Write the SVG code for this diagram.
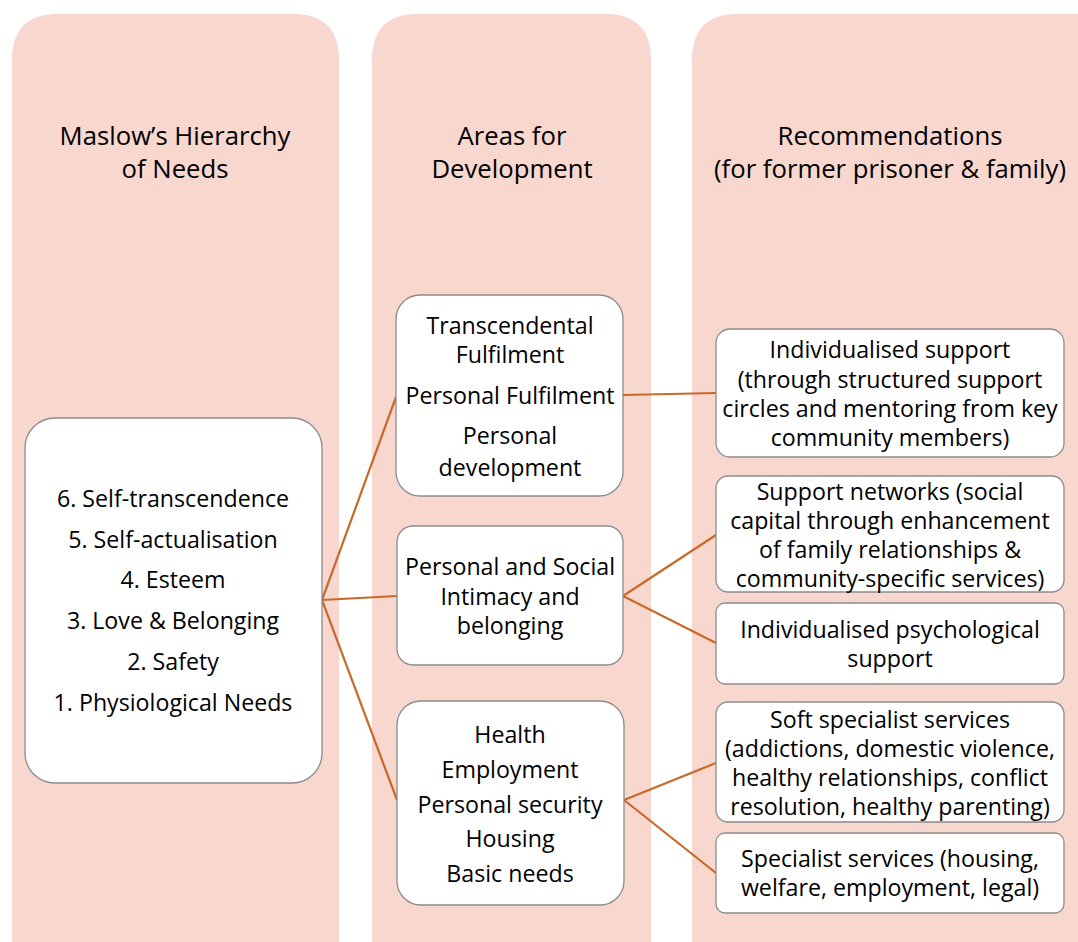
<svg xmlns="http://www.w3.org/2000/svg" width="1078" height="942" viewBox="0 0 1078 942">
<style>
.col{fill:#F8D7CE;}
.box{fill:#FFFFFF;stroke:#8C8C8C;stroke-width:1.3;}
.t{font-family:"Open Sans","Noto Sans","Liberation Sans",sans-serif;fill:#000;text-anchor:middle;}
.h{font-size:25.7px;}
.n{font-size:23.2px;}
.c{fill:none;stroke:#C8692A;stroke-width:2.2;}
</style>
<rect width="1078" height="942" fill="#FFFFFF"/>
<g id="columns">
<path class="col" d="M12 60 Q12 14 58 14 L293 14 Q339 14 339 60 L339 942 L12 942 Z"/>
<path class="col" d="M372 60 Q372 14 418 14 L605 14 Q651 14 651 60 L651 942 L372 942 Z"/>
<path class="col" d="M692 60 Q692 14 738 14 L1078 14 L1078 942 L692 942 Z"/>
</g>
<g id="headers">
<text class="t h" x="175" y="145">Maslow’s Hierarchy</text>
<text class="t h" x="175" y="178">of Needs</text>
<text class="t h" x="512" y="145">Areas for</text>
<text class="t h" x="512" y="178">Development</text>
<text class="t h" x="890" y="145">Recommendations</text>
<text class="t h" x="890" y="178">(for former prisoner &amp; family)</text>
</g>
<g id="connectors">
<line class="c" x1="322" y1="600" x2="396" y2="397"/>
<line class="c" x1="322" y1="600" x2="397" y2="596"/>
<line class="c" x1="322" y1="600" x2="397" y2="800"/>
<line class="c" x1="623" y1="395" x2="716" y2="393"/>
<line class="c" x1="623" y1="596" x2="716" y2="535"/>
<line class="c" x1="623" y1="596" x2="716" y2="643"/>
<line class="c" x1="624" y1="800" x2="716" y2="763"/>
<line class="c" x1="624" y1="800" x2="716" y2="873"/>
</g>
<g id="maslow">
<rect class="box" x="25" y="418" width="297" height="365" rx="30"/>
<text class="t n" x="173" y="507">6. Self-transcendence</text>
<text class="t n" x="173" y="548">5. Self-actualisation</text>
<text class="t n" x="173" y="588">4. Esteem</text>
<text class="t n" x="173" y="629">3. Love &amp; Belonging</text>
<text class="t n" x="173" y="670">2. Safety</text>
<text class="t n" x="173" y="711">1. Physiological Needs</text>
</g>
<g id="area1">
<rect class="box" x="396" y="295" width="227" height="201" rx="24"/>
<text class="t n" x="510" y="334">Transcendental</text>
<text class="t n" x="510" y="363">Fulfilment</text>
<text class="t n" x="510" y="404">Personal Fulfilment</text>
<text class="t n" x="510" y="444">Personal</text>
<text class="t n" x="510" y="476">development</text>
</g>
<g id="area2">
<rect class="box" x="397" y="526" width="226" height="139" rx="16"/>
<text class="t n" x="510" y="575">Personal and Social</text>
<text class="t n" x="510" y="605">Intimacy and</text>
<text class="t n" x="510" y="634">belonging</text>
</g>
<g id="area3">
<rect class="box" x="397" y="701" width="227" height="204" rx="24"/>
<text class="t n" x="510" y="743">Health</text>
<text class="t n" x="510" y="778">Employment</text>
<text class="t n" x="510" y="813">Personal security</text>
<text class="t n" x="510" y="847">Housing</text>
<text class="t n" x="510" y="882">Basic needs</text>
</g>
<g id="rec1">
<rect class="box" x="716" y="329" width="348" height="128" rx="14"/>
<text class="t n" x="890" y="358">Individualised support</text>
<text class="t n" x="890" y="388">(through structured support</text>
<text class="t n" x="890" y="417">circles and mentoring from key</text>
<text class="t n" x="890" y="446">community members)</text>
</g>
<g id="rec2">
<rect class="box" x="716" y="476" width="348" height="116" rx="12"/>
<text class="t n" x="890" y="500">Support networks (social</text>
<text class="t n" x="890" y="529">capital through enhancement</text>
<text class="t n" x="890" y="558">of family relationships &amp;</text>
<text class="t n" x="890" y="587">community-specific services)</text>
</g>
<g id="rec3">
<rect class="box" x="716" y="603" width="348" height="81" rx="9"/>
<text class="t n" x="890" y="638">Individualised psychological</text>
<text class="t n" x="890" y="667">support</text>
</g>
<g id="rec4">
<rect class="box" x="716" y="702" width="348" height="120" rx="12"/>
<text class="t n" x="890" y="728">Soft specialist services</text>
<text class="t n" x="890" y="757">(addictions, domestic violence,</text>
<text class="t n" x="890" y="786">healthy relationships, conflict</text>
<text class="t n" x="890" y="815">resolution, healthy parenting)</text>
</g>
<g id="rec5">
<rect class="box" x="716" y="833" width="348" height="80" rx="9"/>
<text class="t n" x="890" y="867">Specialist services (housing,</text>
<text class="t n" x="890" y="896">welfare, employment, legal)</text>
</g>
</svg>
